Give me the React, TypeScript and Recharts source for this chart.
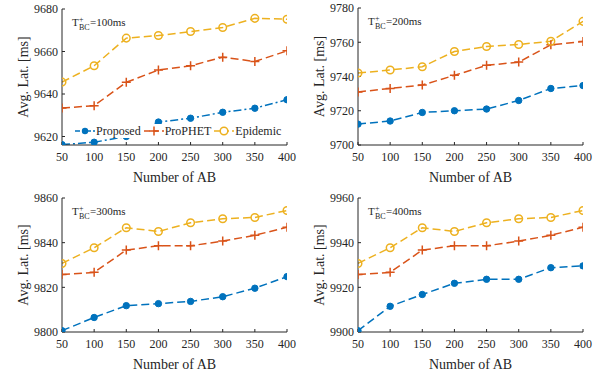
import React from "react";
import { LineChart, Line, XAxis, YAxis, Legend } from "recharts";

// x values (number of AB)
const abCounts = [50, 100, 150, 200, 250, 300, 350, 400];

// T_BC = 100ms
const proposed100 = [9616.2, 9617.3, 9620, 9626.8, 9628.6, 9631.4, 9633.3, 9637.3];
const prophet100 = [9633.4, 9634.5, 9645.5, 9651.3, 9653.3, 9657.3, 9655.3, 9660.3];
const epidemic100 = [9645.6, 9653.3, 9666.3, 9667.5, 9669.4, 9671.3, 9675.6, 9675.2];

// T_BC = 200ms
const proposed200 = [9712.2, 9714, 9719, 9720, 9721, 9726, 9733, 9734.7];
const prophet200 = [9731, 9733, 9735, 9740.7, 9746.5, 9748.4, 9758.5, 9760.4];
const epidemic200 = [9742, 9743.8, 9745.7, 9754.6, 9757.5, 9758.7, 9760.6, 9772.2];

// T_BC = 300ms
const proposed300 = [9800.6, 9806.5, 9811.8, 9812.7, 9813.7, 9815.8, 9819.6, 9824.8];
const prophet300 = [9825.7, 9826.7, 9836.7, 9838.6, 9838.6, 9840.7, 9843.3, 9846.9];
const epidemic300 = [9830.7, 9837.7, 9846.7, 9845, 9848.9, 9850.7, 9851.3, 9854.4];

// T_BC = 400ms
const proposed400 = [9900.6, 9911.5, 9916.8, 9921.8, 9923.6, 9923.6, 9928.8, 9929.6];
const prophet400 = [9925.7, 9926.7, 9936.7, 9938.6, 9938.6, 9940.7, 9943.3, 9946.9];
const epidemic400 = [9930.7, 9937.7, 9946.7, 9945, 9948.9, 9950.7, 9951.3, 9954.4];

const ticks100 = [9620, 9640, 9660, 9680];
const ticks200 = [9700, 9720, 9740, 9760, 9780];
const ticks300 = [9800, 9820, 9840, 9860];
const ticks400 = [9900, 9920, 9940, 9960];

const seriesNames = ["Proposed", "ProPHET", "Epidemic"];

const BLUE = "#0072BD";
const RED = "#D95319";
const YELLOW = "#EDB120";
const AXIS = "#262626";
const FONT = "Liberation Serif, serif";
const DASH = "8 4";
const DASH_DOT = "8 3 2 3";

const panels = [
  {
    tbc: "100ms", proposed: proposed100, prophet: prophet100, epidemic: epidemic100,
    domain: [9616, 9680], ticks: ticks100,
    x: 0, y: 0, left: 62, right: 17, top: 9, bottom: 41, labelX: 23,
    proposedDash: DASH_DOT, legend: true,
  },
  {
    tbc: "200ms", proposed: proposed200, prophet: prophet200, epidemic: epidemic200,
    domain: [9700, 9780], ticks: ticks200,
    x: 304, y: 0, left: 54, right: 25, top: 8, bottom: 41, labelX: 15,
    proposedDash: DASH, legend: false,
  },
  {
    tbc: "300ms", proposed: proposed300, prophet: prophet300, epidemic: epidemic300,
    domain: [9800, 9860], ticks: ticks300,
    x: 0, y: 186, left: 62, right: 17, top: 12, bottom: 40, labelX: 23,
    proposedDash: DASH, legend: false,
  },
  {
    tbc: "400ms", proposed: proposed400, prophet: prophet400, epidemic: epidemic400,
    domain: [9900, 9960], ticks: ticks400,
    x: 304, y: 186, left: 54, right: 25, top: 12, bottom: 40, labelX: 15,
    proposedDash: DASH, legend: false,
  },
];

const filledDot = (props: any) => {
  const { cx, cy, index } = props;
  if (cx == null || cy == null) return null;
  return <circle key={index} cx={cx} cy={cy} r={3.2} fill={BLUE} stroke={BLUE} strokeWidth={1} />;
};

const plusDot = (props: any) => {
  const { cx, cy, index } = props;
  if (cx == null || cy == null) return null;
  return (
    <path
      key={index}
      d={`M${cx - 4.5},${cy}h9M${cx},${cy - 4.5}v9`}
      stroke={RED}
      strokeWidth={1.5}
      fill="none"
    />
  );
};

const openDot = (props: any) => {
  const { cx, cy, index } = props;
  if (cx == null || cy == null) return null;
  return <circle key={index} cx={cx} cy={cy} r={3.8} fill="none" stroke={YELLOW} strokeWidth={1.5} />;
};

function LegendSample({ kind }: { kind: number }) {
  const color = [BLUE, RED, YELLOW][kind];
  return (
    <svg width={20} height={14} style={{ display: "block" }}>
      <line
        x1={0}
        y1={7}
        x2={20}
        y2={7}
        stroke={color}
        strokeWidth={1.5}
        strokeDasharray={kind === 0 ? "5 2 2 2" : "6 3"}
      />
      {kind === 0 && <circle cx={10} cy={7} r={3.2} fill={BLUE} />}
      {kind === 1 && <path d="M5.5,7h9M10,2.5v9" stroke={RED} strokeWidth={1.5} />}
      {kind === 2 && <circle cx={10} cy={7} r={3.8} fill="#fff" stroke={YELLOW} strokeWidth={1.5} />}
    </svg>
  );
}

function LegendBox() {
  return (
    <div
      style={{
        display: "flex",
        alignItems: "center",
        background: "#fff",
        height: 14,
        paddingLeft: 1,
        fontSize: 12,
        fontFamily: FONT,
        color: AXIS,
        lineHeight: "14px",
        whiteSpace: "nowrap",
      }}
    >
      {seriesNames.map((name, i) => (
        <div key={name} style={{ display: "flex", alignItems: "center", marginRight: 3 }}>
          <LegendSample kind={i} />
          <span style={{ marginLeft: 1 }}>{name}</span>
        </div>
      ))}
    </div>
  );
}

function Annotation({ left, top, tbc }: { left: number; top: number; tbc: string }) {
  const x = left + 10;
  const y = top + 17;
  return (
    <svg
      width={304}
      height={60}
      style={{ position: "absolute", left: 0, top: 0, pointerEvents: "none", fontFamily: FONT }}
    >
      <text x={x} y={y} fontSize={11} fill={AXIS}>T</text>
      <text x={x + 7} y={y - 4} fontSize={8} fill={AXIS}>+</text>
      <text x={x + 7} y={y + 4} fontSize={8} fill={AXIS}>BC</text>
      <text x={x + 18} y={y} fontSize={11} fill={AXIS}>={tbc}</text>
    </svg>
  );
}

function Panel({ p }: { p: (typeof panels)[number] }) {
  const data = abCounts.map((ab, i) => ({
    ab,
    proposed: p.proposed[i],
    prophet: p.prophet[i],
    epidemic: p.epidemic[i],
  }));
  const tickStyle = { fontSize: 12, fill: AXIS, style: { fontFamily: FONT } };
  return (
    <div style={{ position: "absolute", left: p.x, top: p.y, width: 304, height: 186, fontFamily: FONT }}>
      <LineChart
        width={304}
        height={186}
        data={data}
        margin={{ top: p.top, right: p.right, bottom: p.bottom - 30, left: 0 }}
        style={{ fontFamily: FONT }}
      >
        <XAxis
          dataKey="ab"
          type="number"
          domain={[50, 400]}
          ticks={abCounts}
          allowDataOverflow
          height={30}
          stroke={AXIS}
          tick={tickStyle}
          tickSize={-3}
          tickMargin={10}
          label={{
            value: "Number of AB",
            position: "bottom",
            offset: -3,
            style: { fontSize: 14, fill: AXIS, fontFamily: FONT },
          }}
        />
        <XAxis
          xAxisId="top"
          orientation="top"
          dataKey="ab"
          type="number"
          domain={[50, 400]}
          ticks={abCounts}
          allowDataOverflow
          height={0}
          stroke={AXIS}
          tickSize={-3}
          tickFormatter={() => ""}
        />
        <YAxis
          type="number"
          domain={p.domain}
          ticks={p.ticks}
          allowDataOverflow
          width={p.left}
          stroke={AXIS}
          tick={tickStyle}
          tickSize={-3}
          tickMargin={7}
          label={{
            value: "Avg. Lat. [ms]",
            angle: -90,
            position: "insideLeft",
            offset: p.labelX,
            style: { fontSize: 14, fill: AXIS, fontFamily: FONT, textAnchor: "middle" },
          }}
        />
        <YAxis
          yAxisId="right"
          orientation="right"
          type="number"
          domain={p.domain}
          ticks={p.ticks}
          allowDataOverflow
          width={0}
          stroke={AXIS}
          tickSize={-3}
          tickFormatter={() => ""}
        />
        <Line
          dataKey="proposed"
          name="Proposed"
          stroke={BLUE}
          strokeWidth={1.5}
          strokeDasharray={p.proposedDash}
          dot={filledDot}
          isAnimationActive={false}
        />
        <Line
          dataKey="prophet"
          name="ProPHET"
          stroke={RED}
          strokeWidth={1.5}
          strokeDasharray={DASH}
          dot={plusDot}
          isAnimationActive={false}
        />
        <Line
          dataKey="epidemic"
          name="Epidemic"
          stroke={YELLOW}
          strokeWidth={1.5}
          strokeDasharray={DASH}
          dot={openDot}
          isAnimationActive={false}
        />
        {p.legend && (
          <Legend
            layout="horizontal"
            verticalAlign="middle"
            align="center"
            content={() => <LegendBox />}
            wrapperStyle={{ position: "absolute", left: 74, top: 124, width: 212, height: 14 }}
          />
        )}
      </LineChart>
      <Annotation left={p.left} top={p.top} tbc={p.tbc} />
    </div>
  );
}

export default function App() {
  return (
    <div
      style={{
        position: "absolute",
        left: 0,
        top: 0,
        width: 608,
        height: 372,
        background: "#fff",
        fontFamily: FONT,
      }}
    >
      {panels.map((p) => (
        <Panel key={p.tbc} p={p} />
      ))}
    </div>
  );
}
